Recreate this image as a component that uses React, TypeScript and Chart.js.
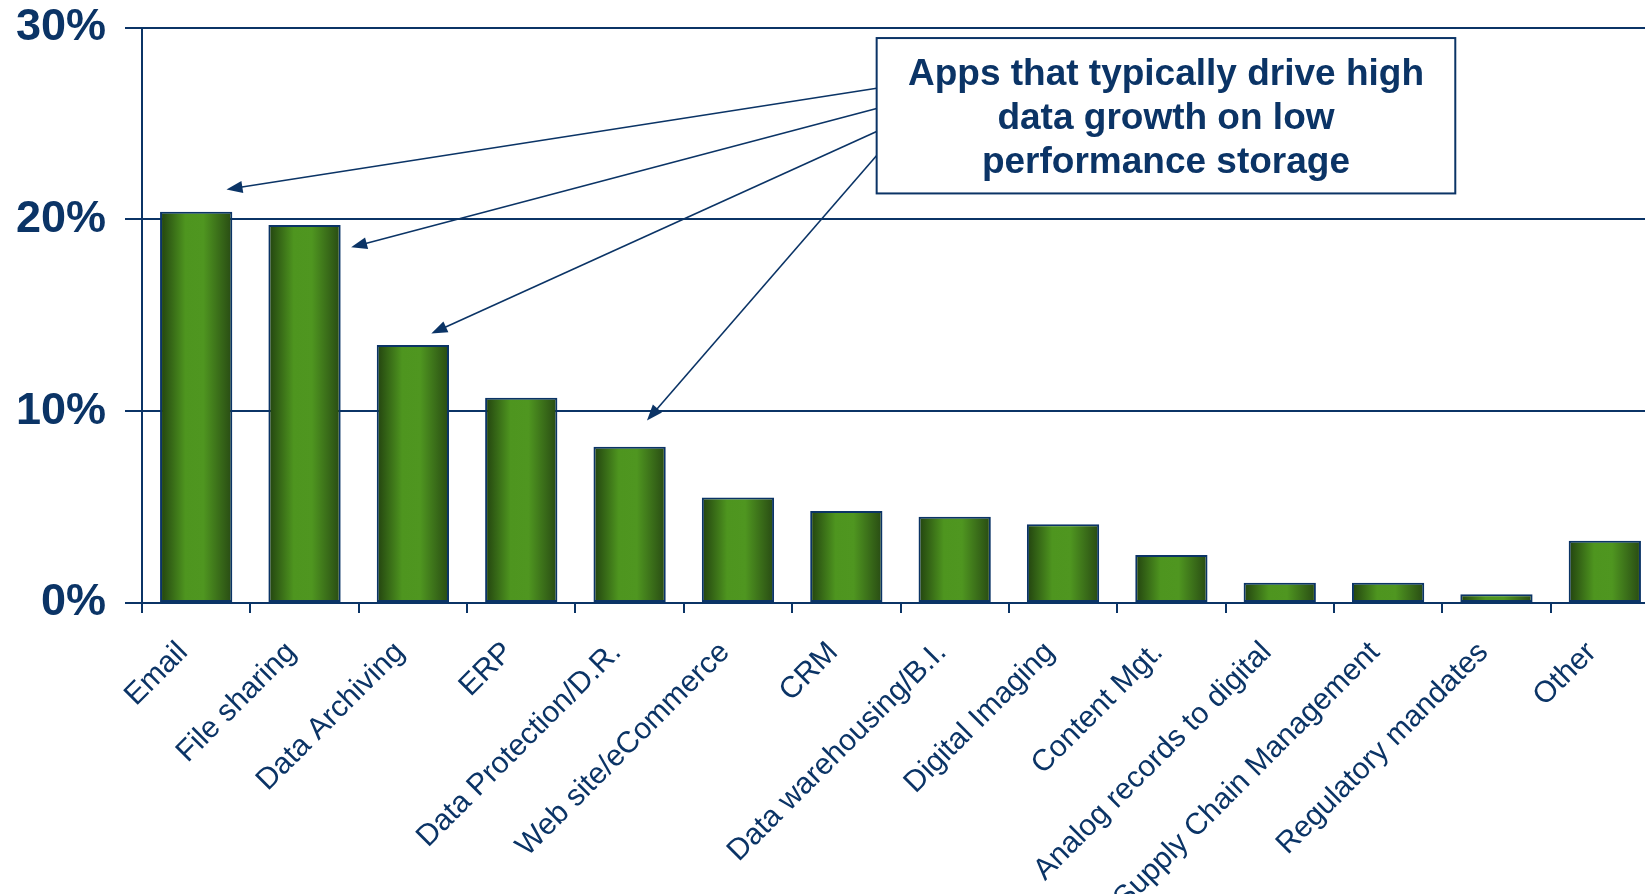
import React, { useEffect, useRef } from "react";
import { Chart, registerables } from "chart.js";

Chart.register(...registerables);

// ---- data ----
const categories = [
  "Email",
  "File sharing",
  "Data Archiving",
  "ERP",
  "Data Protection/D.R.",
  "Web site/eCommerce",
  "CRM",
  "Data warehousing/B.I.",
  "Digital Imaging",
  "Content Mgt.",
  "Analog records to digital",
  "Supply Chain Management",
  "Regulatory mandates",
  "Other",
];
const shares = [20.4, 19.7, 13.45, 10.7, 8.15, 5.5, 4.8, 4.5, 4.1, 2.5, 1.05, 1.05, 0.45, 3.25];
const yTickValues = [0, 10, 20, 30];
const noteLines = ["Apps that typically drive high", "data growth on low", "performance storage"];

// annotation geometry (in axis units: category index / percent)
const noteBox = { x0: 6.28, x1: 11.62, yTop: 29.45, yBottom: 21.35 };
const arrowStartY = [26.83, 25.78, 24.58, 23.33];
const arrowTipX = [0.28, 1.43, 2.17, 4.16];
const arrowTipY = [21.56, 18.54, 14.05, 9.51];

// ---- styles ----
const NAVY = "#0b3466";
const FONT = '"Liberation Sans", Arial, Helvetica, sans-serif';

function barGradient(c: any) {
  const chart = c.chart;
  const xs = chart.scales && chart.scales.x;
  if (!xs || c.dataIndex === undefined || !chart.chartArea) return "#4f9520";
  const cx = xs.getPixelForValue(c.dataIndex);
  const cat = xs.getPixelForValue(1) - xs.getPixelForValue(0);
  const w = cat * 0.667;
  if (!isFinite(cx) || !isFinite(w) || w <= 0) return "#4f9520";
  const g = chart.ctx.createLinearGradient(cx - w / 2, 0, cx + w / 2, 0);
  g.addColorStop(0, "#22420f");
  g.addColorStop(0.35, "#4e951f");
  g.addColorStop(0.6, "#4f9620");
  g.addColorStop(1, "#284a13");
  return g;
}

const notePlugin = {
  id: "notePlugin",
  afterDraw(chart: any) {
    const { ctx, scales } = chart;
    const x = scales.x;
    const y = scales.y;
    const bx0 = x.getPixelForValue(noteBox.x0);
    const bx1 = x.getPixelForValue(noteBox.x1);
    const by0 = y.getPixelForValue(noteBox.yTop);
    const by1 = y.getPixelForValue(noteBox.yBottom);
    ctx.save();
    // arrows
    ctx.strokeStyle = NAVY;
    ctx.fillStyle = NAVY;
    ctx.lineWidth = 1.6;
    for (let i = 0; i < arrowStartY.length; i++) {
      const sx = bx0;
      const sy = y.getPixelForValue(arrowStartY[i]);
      const tx = x.getPixelForValue(arrowTipX[i]);
      const ty = y.getPixelForValue(arrowTipY[i]);
      const ang = Math.atan2(ty - sy, tx - sx);
      const len = 16;
      const hw = 6;
      const baseX = tx - Math.cos(ang) * len;
      const baseY = ty - Math.sin(ang) * len;
      ctx.beginPath();
      ctx.moveTo(sx, sy);
      ctx.lineTo(baseX + Math.cos(ang) * 2, baseY + Math.sin(ang) * 2);
      ctx.stroke();
      ctx.beginPath();
      ctx.moveTo(tx, ty);
      ctx.lineTo(baseX - Math.sin(ang) * hw, baseY + Math.cos(ang) * hw);
      ctx.lineTo(baseX + Math.sin(ang) * hw, baseY - Math.cos(ang) * hw);
      ctx.closePath();
      ctx.fill();
    }
    // box
    ctx.fillStyle = "#ffffff";
    ctx.fillRect(bx0, by0, bx1 - bx0, by1 - by0);
    ctx.lineWidth = 2;
    ctx.strokeStyle = NAVY;
    ctx.strokeRect(bx0, by0, bx1 - bx0, by1 - by0);
    // text
    ctx.fillStyle = NAVY;
    ctx.font = `bold 37px ${FONT}`;
    ctx.textAlign = "center";
    ctx.textBaseline = "middle";
    const lh = 44;
    const cx = (bx0 + bx1) / 2;
    const cy = (by0 + by1) / 2 + 3;
    noteLines.forEach((t, i) => {
      ctx.fillText(t, cx, cy + (i - (noteLines.length - 1) / 2) * lh);
    });
    ctx.restore();
  },
};

export default function App() {
  const ref = useRef<HTMLCanvasElement | null>(null);
  useEffect(() => {
    if (!ref.current) return;
    const chart = new Chart(ref.current, {
      type: "bar",
      data: {
        labels: categories,
        datasets: [
          {
            data: shares,
            backgroundColor: barGradient as any,
            borderColor: NAVY,
            borderWidth: 2,
            borderSkipped: false,
            barPercentage: 0.667,
            categoryPercentage: 1,
          },
        ],
      },
      options: {
        responsive: false,
        animation: false,
        devicePixelRatio: 1,
        layout: { padding: 0 },
        plugins: { legend: { display: false }, tooltip: { enabled: false } },
        scales: {
          x: {
            grid: {
              display: true,
              drawOnChartArea: false,
              drawTicks: true,
              tickLength: 10,
              color: NAVY,
              lineWidth: 2,
              offset: true,
            },
            border: { display: true, color: NAVY, width: 2 },
            ticks: {
              color: NAVY,
              font: { family: FONT, size: 30 },
              minRotation: 45,
              maxRotation: 45,
              autoSkip: false,
              padding: 22,
              labelOffset: -13,
            },
            afterFit: (s: any) => {
              s.height = 291;
              s.paddingLeft = 0;
              s.paddingRight = 0;
            },
          },
          y: {
            min: 0,
            max: 30,
            afterBuildTicks: (s: any) => {
              s.ticks = yTickValues.map((v) => ({ value: v }));
            },
            grid: { color: NAVY, lineWidth: 2, tickLength: 17 },
            border: { display: true, color: NAVY, width: 2 },
            ticks: {
              color: NAVY,
              font: { family: FONT, size: 45, weight: "bold" },
              padding: 19,
              callback: (v: any) => v + "%",
            },
            afterFit: (s: any) => {
              s.width = 142;
              s.paddingTop = 27.5;
              s.paddingBottom = 0;
            },
          },
        },
      },
      plugins: [notePlugin],
    });
    return () => chart.destroy();
  }, []);
  return (
    <div
      style={{
        position: "absolute",
        left: 0,
        top: 0,
        width: 1645,
        height: 894,
        overflow: "hidden",
        background: "#ffffff",
      }}
    >
      <canvas ref={ref} width={1659} height={894} style={{ width: 1659, height: 894, display: "block" }} />
    </div>
  );
}
